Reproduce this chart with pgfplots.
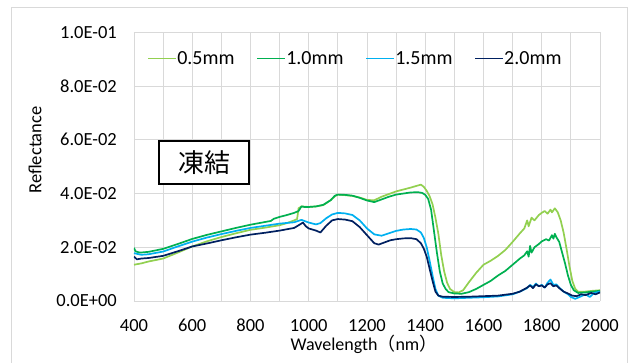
\documentclass[border=0pt]{standalone}
\usepackage{fontspec}
\setmainfont{Carlito}
\newfontfamily\cjk{Noto Sans CJK JP}
\usepackage{pgfplots}
\pgfplotsset{compat=1.18}
\definecolor{cA}{RGB}{146,208,80}
\definecolor{cB}{RGB}{0,176,80}
\definecolor{cC}{RGB}{0,176,240}
\definecolor{cD}{RGB}{0,32,96}
\definecolor{gridgray}{RGB}{217,217,217}
\begin{document}
\begin{tikzpicture}
\useasboundingbox (0,0) rectangle (630pt,-362pt);
\fill[white] (0,0) rectangle (630pt,-362pt);
\draw[gridgray, line width=0.8pt] (11pt,-380pt) -- (11pt,-7.3pt) -- (627.7pt,-7.3pt) -- (627.7pt,-380pt);
\begin{axis}[
  at={(134pt,-301pt)}, anchor=south west,
  scale only axis, width=466pt, height=268.7pt,
  xmin=400, xmax=2000, ymin=0, ymax=0.1,
  xtick={400,600,800,1000,1200,1400,1600,1800,2000},
  xticklabels={400,600,800,1000,1200,1400,1600,1800,2000},
  minor xtick={500,700,900,1100,1300,1500,1700,1900},
  ytick={0,0.02,0.04,0.06,0.08,0.1},
  yticklabels={0.0E+00,2.0E-02,4.0E-02,6.0E-02,8.0E-02,1.0E-01},
  scaled y ticks=false,
  grid=both,
  major grid style={draw=gridgray, line width=0.8pt},
  minor grid style={draw=gridgray, line width=0.8pt},
  axis line style={draw=none},
  major tick length=0pt, minor tick length=0pt,
  tick label style={font=\fontsize{18.5}{20}\selectfont, text=black},
  yticklabel style={anchor=east, inner sep=0pt, xshift=-17pt},
  xticklabel style={anchor=north, inner sep=0pt, yshift=-18pt},
  legend columns=4,
  legend style={at={(0.0288,0.903)}, anchor=west, draw=none, fill=none, inner sep=0pt,
    font=\fontsize{20}{22}\selectfont,
    nodes={inner sep=0pt},
    /tikz/every even column/.append style={column sep=22pt}},
  legend image code/.code={\draw[#1] (0pt,0pt) -- (28pt,0pt);},
  every axis plot/.append style={line width=1.7pt, line join=round},
]
\addplot[cA] coordinates {
(400,0.0135)(425,0.0140)(450,0.0147)(500,0.0158)(550,0.0180)(600,0.0203)(650,0.0222)(700,0.0238)(750,0.0252)(800,0.0265)(850,0.0273)(900,0.0282)(925,0.0290)(950,0.0300)(960,0.0305)(965,0.0345)(975,0.0352)(1000,0.0350)(1025,0.0352)(1050,0.0357)(1075,0.0375)(1090,0.0390)(1100,0.0396)(1125,0.0394)(1150,0.0391)(1175,0.0385)(1200,0.0376)(1225,0.0375)(1250,0.0388)(1275,0.0398)(1300,0.0408)(1325,0.0415)(1350,0.0422)(1375,0.0430)(1385,0.0433)(1395,0.0425)(1405,0.0410)(1415,0.0390)(1425,0.0360)(1435,0.0310)(1445,0.0250)(1455,0.0170)(1465,0.0110)(1475,0.0068)(1485,0.0045)(1500,0.0033)(1515,0.0032)(1530,0.0040)(1550,0.0070)(1575,0.0105)(1600,0.0135)(1625,0.0150)(1650,0.0168)(1675,0.0190)(1700,0.0220)(1725,0.0252)(1740,0.0270)(1750,0.0300)(1755,0.0278)(1765,0.0310)(1775,0.0300)(1790,0.0320)(1800,0.0328)(1810,0.0335)(1820,0.0325)(1830,0.0340)(1835,0.0330)(1845,0.0345)(1855,0.0330)(1865,0.0300)(1875,0.0255)(1885,0.0195)(1895,0.0130)(1905,0.0075)(1915,0.0045)(1925,0.0035)(1950,0.0035)(1975,0.0038)(2000,0.0040)
};
\addlegendentry{0.5mm}
\addplot[cB] coordinates {
(400,0.0198)(405,0.0185)(420,0.0180)(450,0.0183)(500,0.0194)(550,0.0212)(600,0.0231)(650,0.0246)(700,0.0259)(750,0.0272)(800,0.0284)(850,0.0294)(870,0.0298)(880,0.0306)(900,0.0313)(925,0.0320)(950,0.0328)(965,0.0335)(975,0.0352)(985,0.0350)(1000,0.0350)(1025,0.0352)(1050,0.0358)(1075,0.0375)(1090,0.0392)(1100,0.0396)(1125,0.0395)(1150,0.0392)(1175,0.0384)(1200,0.0374)(1225,0.0368)(1250,0.0378)(1275,0.0388)(1300,0.0396)(1325,0.0400)(1350,0.0404)(1375,0.0405)(1390,0.0402)(1400,0.0395)(1410,0.0380)(1420,0.0340)(1430,0.0260)(1440,0.0180)(1450,0.0110)(1460,0.0065)(1470,0.0045)(1480,0.0033)(1500,0.0028)(1525,0.0027)(1550,0.0033)(1575,0.0045)(1600,0.0060)(1625,0.0075)(1650,0.0095)(1675,0.0112)(1700,0.0135)(1725,0.0158)(1740,0.0170)(1750,0.0185)(1755,0.0165)(1760,0.0205)(1765,0.0180)(1775,0.0200)(1790,0.0212)(1800,0.0222)(1815,0.0230)(1825,0.0225)(1835,0.0245)(1840,0.0232)(1845,0.0250)(1850,0.0238)(1860,0.0220)(1870,0.0180)(1880,0.0140)(1890,0.0095)(1900,0.0060)(1910,0.0040)(1925,0.0030)(1950,0.0032)(1975,0.0035)(2000,0.0038)
};
\addlegendentry{1.0mm}
\addplot[cC] coordinates {
(400,0.0178)(425,0.0172)(450,0.0174)(500,0.0184)(550,0.0203)(600,0.0221)(650,0.0236)(700,0.0249)(750,0.0261)(800,0.0272)(850,0.0280)(900,0.0288)(950,0.0293)(975,0.0302)(1000,0.0292)(1025,0.0285)(1040,0.0290)(1060,0.0308)(1080,0.0322)(1100,0.0328)(1125,0.0326)(1150,0.0320)(1175,0.0300)(1200,0.0270)(1225,0.0248)(1250,0.0243)(1275,0.0252)(1300,0.0261)(1325,0.0266)(1350,0.0268)(1370,0.0266)(1385,0.0255)(1395,0.0235)(1405,0.0200)(1415,0.0150)(1425,0.0095)(1435,0.0045)(1445,0.0020)(1460,0.0012)(1500,0.0010)(1550,0.0012)(1600,0.0014)(1650,0.0017)(1700,0.0025)(1725,0.0035)(1750,0.0048)(1760,0.0060)(1770,0.0052)(1780,0.0065)(1790,0.0055)(1800,0.0060)(1810,0.0050)(1820,0.0068)(1830,0.0080)(1840,0.0060)(1850,0.0062)(1860,0.0050)(1875,0.0035)(1890,0.0025)(1900,0.0015)(1915,0.0008)(1930,0.0015)(1950,0.0025)(1965,0.0015)(1980,0.0030)(2000,0.0035)
};
\addlegendentry{1.5mm}
\addplot[cD] coordinates {
(400,0.0165)(410,0.0155)(425,0.0158)(450,0.0160)(500,0.0168)(550,0.0185)(600,0.0203)(650,0.0214)(700,0.0226)(750,0.0237)(800,0.0247)(850,0.0254)(900,0.0262)(950,0.0272)(970,0.0285)(980,0.0292)(990,0.0278)(1000,0.0270)(1025,0.0262)(1040,0.0255)(1060,0.0280)(1080,0.0300)(1100,0.0305)(1125,0.0303)(1150,0.0297)(1175,0.0275)(1200,0.0245)(1225,0.0215)(1240,0.0210)(1260,0.0218)(1280,0.0226)(1300,0.0230)(1325,0.0233)(1350,0.0234)(1370,0.0230)(1385,0.0215)(1395,0.0195)(1405,0.0165)(1415,0.0120)(1425,0.0075)(1435,0.0035)(1445,0.0020)(1460,0.0016)(1500,0.0015)(1550,0.0016)(1600,0.0018)(1650,0.0020)(1700,0.0027)(1725,0.0035)(1750,0.0050)(1760,0.0058)(1770,0.0048)(1780,0.0062)(1790,0.0055)(1800,0.0058)(1810,0.0050)(1820,0.0062)(1830,0.0066)(1840,0.0055)(1850,0.0058)(1860,0.0048)(1875,0.0035)(1890,0.0028)(1905,0.0020)(1920,0.0018)(1935,0.0025)(1950,0.0022)(1970,0.0030)(1985,0.0025)(2000,0.0032)
};
\addlegendentry{2.0mm}
\end{axis}
\draw[black, line width=1.5pt, fill=white] (159pt,-141pt) rectangle (249pt,-184pt);
\node[font=\cjk\fontsize{26}{28}\selectfont, inner sep=0pt] at (204pt,-162.5pt) {凍結};
\node[font=\fontsize{18}{20}\selectfont, inner sep=0pt] at (364pt,-344pt) {Wavelength{\cjk （}nm{\cjk ）}};
\node[font=\fontsize{18.5}{20}\selectfont, inner sep=0pt, rotate=90] at (35pt,-150pt) {Reflectance};
\end{tikzpicture}
\end{document}
